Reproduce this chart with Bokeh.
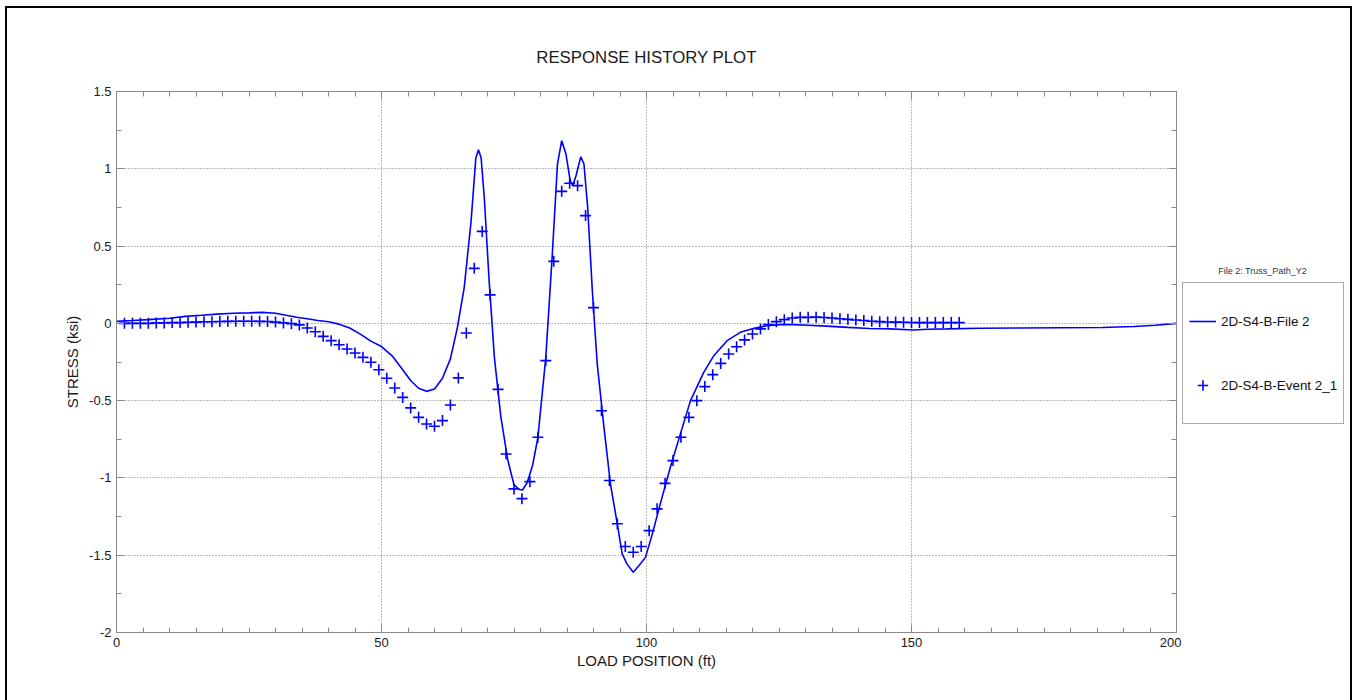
from bokeh.plotting import figure
from bokeh.models import Range1d, FixedTicker, LinearAxis, Legend, LegendItem, Label
from bokeh.layouts import row
from bokeh.embed import file_html
from bokeh.resources import INLINE

# ---------------- data ----------------
file2_x = [0, 3, 6, 10, 13, 16, 19, 22, 25, 27.5, 30, 32, 34, 36, 38, 40, 42, 44, 46, 48,
           50, 52, 54, 55.5, 57, 58.5, 60, 61.5, 63, 64.3, 65.6, 66.9, 67.8, 68.3, 68.8, 69.4,
           70.3, 71.3, 72.5, 73.8, 75, 76, 76.6, 77.5, 78.5, 79.5, 81, 82.2, 83.2, 84, 84.8,
           85.6, 86.1, 86.7, 87.6, 88.2, 88.9, 89.8, 90.7, 91.9, 93.2, 94.5, 95.4, 96.3, 97.5,
           98.6, 99.8, 101.1, 102.6, 104.5, 106.4, 108.3, 110.8, 112.7, 115.2, 117.7, 120.3,
           122.8, 125.3, 127.8, 130.5, 134, 138, 142, 146, 150.4, 153, 156.7, 163, 170, 178,
           186, 192, 196, 200]
file2_y = [0.013, 0.018, 0.024, 0.033, 0.045, 0.052, 0.06, 0.065, 0.068, 0.071, 0.065, 0.052,
           0.04, 0.03, 0.018, 0.01, -0.005, -0.03, -0.07, -0.115, -0.15, -0.21, -0.3, -0.37,
           -0.42, -0.44, -0.425, -0.355, -0.23, -0.03, 0.23, 0.66, 1.07, 1.124, 1.07, 0.81,
           0.28, -0.22, -0.6, -0.88, -1.045, -1.075, -1.078, -1.03, -0.92, -0.74, -0.22, 0.43,
           1.03, 1.182, 1.096, 0.923, 0.89, 0.955, 1.078, 1.031, 0.75, 0.2, -0.26, -0.65,
           -1.04, -1.3, -1.49, -1.556, -1.61, -1.567, -1.514, -1.362, -1.168, -0.931, -0.715,
           -0.5, -0.317, -0.209, -0.112, -0.058, -0.032, -0.015, -0.008, -0.008, -0.012,
           -0.018, -0.026, -0.033, -0.036, -0.043, -0.038, -0.036, -0.032, -0.03, -0.028,
           -0.027, -0.02, -0.012, 0.0]

event_x = [1.5, 3, 4.5, 6, 7.5, 9, 10.5, 12, 13.5, 15, 16.5, 18, 19.5, 21, 22.5, 24, 25.5, 27,
           28.5, 30, 31.5, 33, 34.5, 36, 37.5, 39, 40.5, 42, 43.5, 45, 46.5, 48, 49.5, 51,
           52.5, 54, 55.5, 57, 58.5, 60, 61.5, 63, 64.5, 66, 67.5, 69, 70.5, 72, 73.5, 75,
           76.5, 78, 79.5, 81, 82.5, 84, 85.5, 87, 88.5, 90, 91.5, 93, 94.5, 96, 97.5, 99,
           100.5, 102, 103.5, 105, 106.5, 108, 109.5, 111, 112.5, 114, 115.5, 117, 118.5, 120,
           121.5, 123, 124.5, 126, 127.5, 129, 130.5, 132, 133.5, 135, 136.5, 138, 139.5, 141,
           142.5, 144, 145.5, 147, 148.5, 150, 151.5, 153, 154.5, 156, 157.5, 159]
event_y = [0.0, 0.0, 0.0, 0.0, 0.003, 0.003, 0.005, 0.005, 0.007, 0.008, 0.01, 0.01, 0.012,
           0.013, 0.014, 0.014, 0.014, 0.013, 0.012, 0.008, 0.003, -0.002, -0.01, -0.03,
           -0.054, -0.084, -0.112, -0.138, -0.166, -0.192, -0.22, -0.252, -0.3, -0.355,
           -0.418, -0.479, -0.547, -0.608, -0.651, -0.666, -0.629, -0.528, -0.353, -0.062,
           0.356, 0.595, 0.184, -0.427, -0.845, -1.071, -1.134, -1.024, -0.737, -0.241, 0.401,
           0.854, 0.906, 0.891, 0.697, 0.102, -0.565, -1.017, -1.296, -1.444, -1.481, -1.444,
           -1.341, -1.2, -1.035, -0.888, -0.737, -0.608, -0.5, -0.409, -0.332, -0.259, -0.198,
           -0.151, -0.107, -0.069, -0.036, -0.008, 0.011, 0.024, 0.035, 0.039, 0.039, 0.04,
           0.038, 0.035, 0.03, 0.026, 0.022, 0.018, 0.014, 0.011, 0.009, 0.008, 0.007, 0.006,
           0.005, 0.005, 0.005, 0.005, 0.005, 0.005]

x_ticks = [0, 50, 100, 150, 200]
x_tick_labels = ["0", "50", "100", "150", "200"]
y_ticks = [-2.0, -1.5, -1.0, -0.5, 0.0, 0.5, 1.0, 1.5]
y_tick_labels = ["-2", "-1.5", "-1", "-0.5", "0", "0.5", "1", "1.5"]

title_text = "RESPONSE HISTORY PLOT"
x_label = "LOAD POSITION (ft)"
y_label = "STRESS (ksi)"
legend_title = "File 2: Truss_Path_Y2"
series_names = ["2D-S4-B-File 2", "2D-S4-B-Event 2_1"]

# ---------------- main figure ----------------
FONT = "Liberation Sans"
BLUE = "#0000ff"
GRAY = "#8a8a8a"
TXT = "#1a1a1a"

p = figure(width=1174, height=692, output_backend="svg", toolbar_location=None,
           x_range=Range1d(0, 200), y_range=Range1d(-2, 1.5),
           min_border_left=109, min_border_right=5, min_border_top=83,
           min_border_bottom=68, background_fill_color="white", border_fill_color="white")
xb = p.xaxis[0]
yl = p.yaxis[0]

p.title.text = title_text
p.title.align = "center"
p.title.text_font = FONT
p.title.text_font_size = "16.8px"
p.title.text_font_style = "normal"
p.title.text_color = TXT
p.title.standoff = 50

p.outline_line_color = GRAY
p.outline_line_width = 1

line_style = dict(line_color=BLUE, line_width=1.6)
mark_style = dict(marker="cross", size=11, line_color=BLUE, line_width=1.6)
p.line(file2_x, file2_y, **line_style)
p.scatter(event_x, event_y, **mark_style)

xt = FixedTicker(ticks=x_ticks, minor_ticks=list(range(0, 201, 5)))
yt = FixedTicker(ticks=y_ticks, minor_ticks=[v / 4 for v in range(-8, 7)])

top = LinearAxis(ticker=xt)
right = LinearAxis(ticker=yt)
p.add_layout(top, "above")
p.add_layout(right, "right")

xb.ticker = xt
yl.ticker = yt
xb.major_label_overrides = {float(v): s for v, s in zip(x_ticks, x_tick_labels)}
yl.major_label_overrides = {float(v): s for v, s in zip(y_ticks, y_tick_labels)}

for ax in [xb, yl, top, right]:
    ax.axis_line_color = GRAY
    ax.major_tick_line_color = GRAY
    ax.minor_tick_line_color = GRAY
    ax.major_tick_in = 8
    ax.major_tick_out = 0
    ax.minor_tick_in = 5
    ax.minor_tick_out = 0
    ax.major_label_text_font = FONT
    ax.major_label_text_font_size = "13px"
    ax.major_label_text_color = TXT
    ax.axis_label_text_font = FONT
    ax.axis_label_text_font_size = "15px"
    ax.axis_label_text_font_style = "normal"
    ax.axis_label_text_color = TXT

for ax in [top, right]:
    ax.major_label_text_font_size = "0px"
    ax.major_label_text_color = None
    ax.major_label_standoff = 0

xb.axis_label = x_label
yl.axis_label = y_label
xb.major_label_standoff = 5
xb.axis_label_standoff = 2
yl.major_label_standoff = 5
yl.axis_label_standoff = 5

p.xgrid.ticker = xt
p.ygrid.ticker = yt
for g in [p.xgrid[0], p.ygrid[0]]:
    g.grid_line_color = "#777777"
    g.grid_line_dash = "1 2"
    g.grid_line_width = 1

# ---------------- legend panel (separate figure so nothing is clipped) ----------------
W2, H2 = 169, 692
q = figure(width=W2, height=H2, output_backend="svg", toolbar_location=None,
           x_range=Range1d(1000, 1001), y_range=Range1d(-2, 1.5),
           x_axis_type=None, y_axis_type=None, min_border=0,
           background_fill_color="white", border_fill_color="white")
q.outline_line_color = None
q.xgrid.visible = False
q.ygrid.visible = False
# same series, drawn out of this panel's view; only used for the legend glyphs
lr = q.line(file2_x, file2_y, **line_style)
mr = q.scatter(event_x, event_y, **mark_style)

q.add_layout(Label(x=81, y=362, x_units="screen", y_units="screen", text=legend_title,
                   text_font=FONT, text_font_size="9px", text_color="#333344",
                   text_align="center", text_baseline="middle"))

legend = Legend(items=[LegendItem(label=series_names[0], renderers=[lr]),
                       LegendItem(label=series_names[1], renderers=[mr])],
                location=(1, 208), orientation="vertical")
legend.padding = 6
legend.spacing = 0
legend.margin = 0
legend.label_height = 64
legend.glyph_height = 26
legend.glyph_width = 27
legend.label_standoff = 5
legend.label_text_font = FONT
legend.label_text_font_size = "13.4px"
legend.label_text_color = "#111111"
legend.border_line_color = "#555555"
legend.border_line_width = 1
legend.background_fill_color = "white"
legend.background_fill_alpha = 1
q.add_layout(legend, "center")

lay = row(p, q)
lay.styles = {"margin-left": "5px", "margin-top": "6px",
              "border-left": "2px solid black", "border-top": "2px solid black",
              "border-right": "2px solid black"}

open("out.html", "w").write(file_html(lay, INLINE))
